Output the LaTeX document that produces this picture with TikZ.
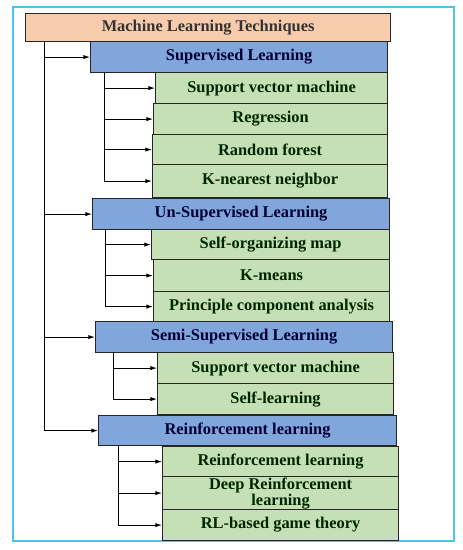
\documentclass[tikz,border=0pt]{standalone}
\usepackage{fontspec}
\setmainfont{Liberation Serif}
\usetikzlibrary{arrows.meta,calc,positioning}
\definecolor{TitlePeach}{RGB}{248,203,173}
\definecolor{GroupBlue}{RGB}{128,166,220}
\definecolor{LeafGreen}{RGB}{197,224,180}
\definecolor{FrameCyan}{RGB}{70,200,235}

\begin{document}
\begin{tikzpicture}[x=0.03cm, y=-0.03cm,
    sz/.style 2 args={minimum width=#1*0.03cm, minimum height=#2*0.03cm},
    box/.style={draw=black!85, line width=1pt, anchor=north west, inner sep=0pt,
        align=center, font=\bfseries\fontsize{14}{11}\selectfont},
    titlebox/.style={box, fill=TitlePeach, text=black!80},
    groupbox/.style={box, fill=GroupBlue, text=blue!20!black},
    leafbox/.style={box, fill=LeafGreen, text=green!15!black},
    link/.style={line width=0.8pt, -{Latex[length=2mm,width=1.3mm]}}]
    \useasboundingbox (0,0) rectangle (462,550);

    % Outer frame
    \draw[FrameCyan, line width=1.5pt] (13,7) rectangle (454,541);

    % Title
    \node[titlebox, sz={365}{28}] (title) at (25,13) {Machine Learning Techniques};

    % Supervised learning
    \node[groupbox, sz={297}{31}] (sup) at (90,41) {Supervised Learning};
    \node[leafbox, sz={232}{31}] (svm1) at (155,72) {Support vector machine};
    \node[leafbox, sz={234}{31}] (reg) at (153,103) {Regression};
    \node[leafbox, sz={235}{30}] (rf) at (152,134) {Random forest};
    \node[leafbox, sz={235}{33}] (knn) at (152,164) {K-nearest neighbor};

    % Un-supervised learning
    \node[groupbox, sz={297}{31}] (unsup) at (92,198) {Un-Supervised Learning};
    \node[leafbox, sz={238}{30}] (som) at (151,229) {Self-organizing map};
    \node[leafbox, sz={236}{32}] (kmeans) at (153,259) {K-means};
    \node[leafbox, sz={236}{30}] (pca) at (153,291) {Principle component analysis};

    % Semi-supervised learning
    \node[groupbox, sz={297}{31}] (semi) at (95,321) {Semi-Supervised Learning};
    \node[leafbox, sz={236}{31}] (svm2) at (157,352) {Support vector machine};
    \node[leafbox, sz={236}{31}] (selfl) at (157,383) {Self-learning};

    % Reinforcement learning
    \node[groupbox, sz={298}{30}] (rein) at (98,415) {Reinforcement learning};
    \node[leafbox, sz={236}{30}] (rl) at (162,446) {Reinforcement learning};
    \node[leafbox, sz={236}{33}] (drl) at (162,476) {Deep Reinforcement\\learning};
    \node[leafbox, sz={236}{31}] (rlgt) at (162,509) {RL-based game theory};

    % Connectors
    \coordinate (mainbus) at ($(title.south west)+(19,0)$);
    \foreach \g in {sup,unsup,semi,rein}
        \draw[link] (mainbus) |- (\g.west);

    \coordinate (supbus) at ($(sup.south west)+(14,0)$);
    \foreach \l in {svm1,reg,rf,knn}
        \draw[link] (supbus) |- (\l.west);

    \coordinate (unsupbus) at ($(unsup.south west)+(13,0)$);
    \foreach \l in {som,kmeans,pca}
        \draw[link] (unsupbus) |- (\l.west);

    \coordinate (semibus) at ($(semi.south west)+(18,0)$);
    \foreach \l in {svm2,selfl}
        \draw[link] (semibus) |- (\l.west);

    \coordinate (reinbus) at ($(rein.south west)+(20,0)$);
    \foreach \l in {rl,drl,rlgt}
        \draw[link] (reinbus) |- (\l.west);
\end{tikzpicture}
\end{document}
